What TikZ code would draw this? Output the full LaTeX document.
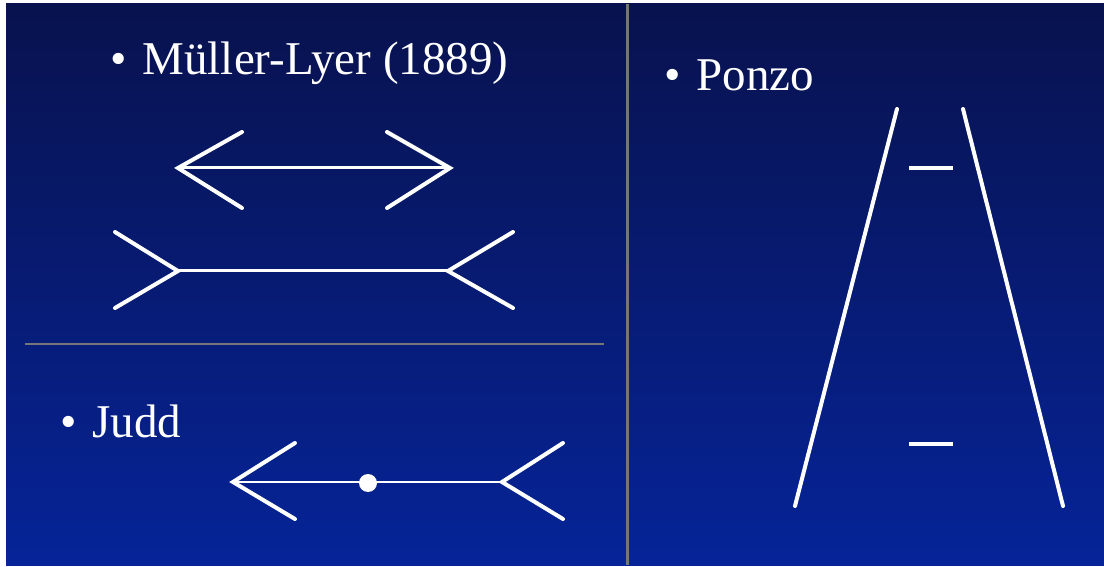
\documentclass[tikz,border=0pt]{standalone}
\usepackage{fontspec}
\setmainfont{Liberation Serif}
\usepackage{tikz}
\usetikzlibrary{calc,positioning}
\definecolor{navytop} {RGB}{8,18,78}
\definecolor{navybot} {RGB}{6,36,152}
\definecolor{rule} {RGB}{118,118,118}

\begin{document}
\begin{tikzpicture}[x=1pt,y=-1pt,
    fig/.style={white, line width=4pt, line cap=round},
    shaft/.style={white, line width=3pt},
    title/.style={white, anchor=base west, inner sep=0pt, font=\fontsize{47}{50}\selectfont}]
    % background
    \fill [white] (0,0) rectangle (1104,565);
    \shade [top color=navytop, bottom color=navybot] (6,4) rectangle (1104,565);
    \draw [rule, line width=3pt] (627,4) -- (627,565);
    \draw [rule, line width=2.5pt] (25,344) -- (604,344);

    % labels
    \node [title] (ml) at (110,75) {\textbullet\hspace{16pt}Müller-Lyer (1889)};
    \node [title] (pz) at (664,91) {\textbullet\hspace{16pt}Ponzo};
    \node [title] (jd) at (60,438) {\textbullet\hspace{16pt}Judd};

    % Mueller-Lyer, arrows in
        \coordinate (a0) at (178,168);
        \coordinate (a1) at (450,168);
        \coordinate (a2) at (242,132);
        \coordinate (a3) at (242,208);
        \coordinate (a4) at (387,132);
        \coordinate (a5) at (387,208);
      \draw [shaft] (a0) -- (a1);
      \draw [fig] (a2) -- (a0) -- (a3);
      \draw [fig] (a4) -- (a1) -- (a5);

    % Mueller-Lyer, fins out
        \coordinate (b0) at (178,271);
        \coordinate (b1) at (448,271);
        \coordinate (b2) at (115,232);
        \coordinate (b3) at (115,308);
        \coordinate (b4) at (513,232);
        \coordinate (b5) at (513,308);
      \draw [shaft] (b0) -- (b1);
      \draw [fig] (b2) -- (b0) -- (b3);
      \draw [fig] (b4) -- (b1) -- (b5);

    % Judd
        \coordinate (j0) at (233,482);
        \coordinate (j1) at (502,482);
        \coordinate (j2) at (295,443);
        \coordinate (j3) at (295,519);
        \coordinate (j4) at (563,443);
        \coordinate (j5) at (563,519);
        \coordinate (jm) at (368,483);
      \draw [white, line width=2pt] (j0) -- (j1);
      \draw [fig] (j2) -- (j0) -- (j3);
      \draw [fig] (j4) -- (j1) -- (j5);
      \fill [white] (jm) circle [radius=9];

    % Ponzo
        \coordinate (p0) at (897,109);
        \coordinate (p1) at (795,506);
        \coordinate (p2) at (963,109);
        \coordinate (p3) at (1063,506);
        \coordinate (p4) at (909,168);
        \coordinate (p5) at (953,168);
        \coordinate (p6) at (909,444);
        \coordinate (p7) at (953,444);
      \draw [fig] (p0) -- (p1);
      \draw [fig] (p2) -- (p3);
      \draw [white, line width=3.5pt] (p4) -- (p5);
      \draw [white, line width=3.5pt] (p6) -- (p7);
\end{tikzpicture}
\end{document}
